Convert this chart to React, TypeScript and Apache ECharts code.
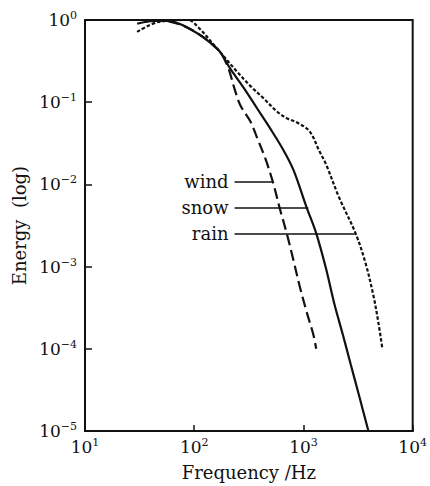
import React, { useEffect, useRef } from "react";
import * as echarts from "echarts";

const windData: [number, number][] = [
  [30, 0.9], [47, 0.99], [88, 0.8], [164, 0.44], [202, 0.274], [234, 0.1455],
  [265, 0.091], [326, 0.0586], [377, 0.0367], [445, 0.0211], [526, 0.0106],
  [608, 0.00505], [703, 0.00254], [813, 0.00117], [920, 0.000589],
  [1064, 0.000288], [1231, 0.000149], [1309, 0.0001],
];
const snowData: [number, number][] = [
  [35, 0.95], [53, 0.98], [88, 0.8], [164, 0.44], [215, 0.252], [288, 0.1455],
  [377, 0.0838], [494, 0.0483], [660, 0.0257], [813, 0.0148], [1064, 0.00533],
  [1309, 0.00254], [1611, 0.000941], [1901, 0.000369], [2292, 0.000149],
  [2706, 0.000065], [3265, 0.0000255], [3933, 0.00001],
];
const rainData: [number, number][] = [
  [30, 0.718], [47, 0.946], [88, 1.0], [108, 0.825], [164, 0.44], [249, 0.232],
  [326, 0.158], [436, 0.11], [571, 0.0772], [703, 0.0637], [865, 0.057],
  [1133, 0.0445], [1393, 0.0257], [1611, 0.0175], [2110, 0.00703], [3000, 0.00254],
  [3696, 0.00111], [4363, 0.000448], [4840, 0.000213], [5257, 0.000104],
];

const seriesNames = ["wind", "snow", "rain"];
const labelY = [0.0109, 0.00519, 0.00254];
const labelStartX = 234;
const labelEndX = [515, 1109, 2950];

const xExponents = ["1", "2", "3", "4"];
const yExponents = ["\u22125", "\u22124", "\u22123", "\u22122", "\u22121", "0"];

const FONT = "'DejaVu Serif', 'Liberation Serif', serif";

export default function App() {
  const ref = useRef<HTMLDivElement>(null);
  useEffect(() => {
    if (!ref.current) return;
    const chart = echarts.init(ref.current, null, { renderer: "svg" });
    const rich = {
      b: { fontFamily: FONT, fontSize: 17, color: "#111", lineHeight: 20 },
      s: { fontFamily: FONT, fontSize: 11, color: "#111", lineHeight: 11, verticalAlign: "top" as const },
    };
    const datas = [windData, snowData, rainData];
    const dashes: any[] = [[11, 5], "solid", [3.5, 2]];
    chart.setOption({
      animation: false,
      grid: {
        left: 85, top: 20, width: 333, height: 418,
        show: true, borderColor: "#111", borderWidth: 2, backgroundColor: "transparent",
      },
      xAxis: {
        type: "log", logBase: 10, min: 10, max: 10000,
        name: "Frequency /Hz", nameLocation: "middle", nameGap: 32,
        nameTextStyle: { fontFamily: FONT, fontSize: 18, color: "#111" },
        axisLine: { lineStyle: { color: "#111", width: 2 } },
        axisTick: { inside: true, length: 6, lineStyle: { color: "#111", width: 1.5 } },
        minorTick: { show: false },
        splitLine: { show: false },
        axisLabel: {
          margin: 6,
          formatter: (_v: number, i: number) => `{b|10}{s|${xExponents[i]}}`,
          rich,
        },
      },
      yAxis: {
        type: "log", logBase: 10, min: 0.00001, max: 1,
        name: "Energy  (log)", nameLocation: "middle", nameGap: 54, nameRotate: 90,
        nameTextStyle: { fontFamily: FONT, fontSize: 18, color: "#111" },
        axisLine: { lineStyle: { color: "#111", width: 2 } },
        axisTick: { inside: true, length: 7, lineStyle: { color: "#111", width: 1.5 } },
        minorTick: { show: false },
        splitLine: { show: false },
        axisLabel: {
          margin: 8,
          formatter: (_v: number, i: number) => `{b|10}{s|${yExponents[i]}}`,
          rich,
        },
      },
      series: datas.map((d, i) => ({
        name: seriesNames[i],
        type: "line",
        data: d,
        smooth: 0.35,
        showSymbol: false,
        symbol: "none",
        clip: true,
        lineStyle: { color: "#111", width: 2.2, type: dashes[i] },
        markLine: {
          silent: true,
          symbol: "none",
          lineStyle: { color: "#111", width: 1.5, type: "solid" },
          label: {
            show: true, position: "start", distance: 6,
            formatter: seriesNames[i],
            fontFamily: FONT, fontSize: 18, color: "#111",
          },
          data: [[{ coord: [labelStartX, labelY[i]] }, { coord: [labelEndX[i], labelY[i]] }]],
        },
      })),
    });
    return () => chart.dispose();
  }, []);
  return (
    <div
      ref={ref}
      style={{ position: "fixed", left: 0, top: 0, width: 430, height: 486, background: "#fff" }}
    />
  );
}
